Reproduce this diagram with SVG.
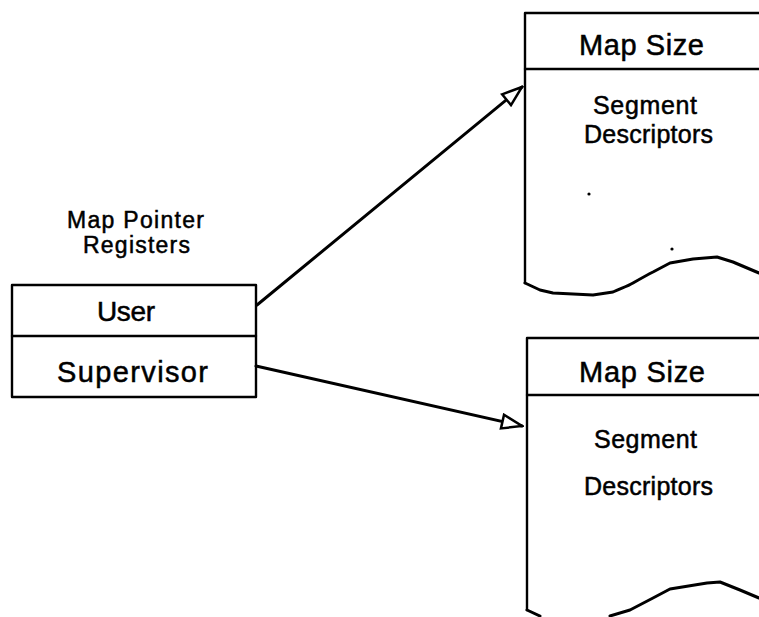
<svg xmlns="http://www.w3.org/2000/svg" width="759" height="617" viewBox="0 0 759 617">
<style>
.box{fill:none;stroke:#000;stroke-width:2.4;stroke-linejoin:round;stroke-linecap:round}
.wave{fill:none;stroke:#000;stroke-width:3;stroke-linejoin:round;stroke-linecap:round}
.con{fill:none;stroke:#000;stroke-width:3;stroke-linecap:round}
text{font-family:"Liberation Sans",Arial,Helvetica,sans-serif;fill:#000;stroke:#000;stroke-width:0.5}
.t29{font-size:29px}
.t28{font-size:28px}
.t25{font-size:25px}
.t23{font-size:23px}
</style>
<defs>
<marker id="arr" markerUnits="userSpaceOnUse" markerWidth="24" markerHeight="18" refX="20" refY="7" orient="auto" viewBox="-2 -2 24 18">
<path d="M0,0 L20,7 L0,14 Z" fill="#fff" stroke="#000" stroke-width="2.5" stroke-linejoin="miter"/>
</marker>
</defs>
<rect width="759" height="617" fill="#fff"/>
<g id="label-registers">
<text class="t23" x="67" y="228" textLength="137" lengthAdjust="spacing">Map Pointer</text>
<text class="t23" x="83" y="253" textLength="107" lengthAdjust="spacing">Registers</text>
</g>
<g id="registers">
<rect class="box" x="12" y="285" width="244" height="112"/>
<line class="box" x1="12" y1="336" x2="256" y2="336"/>
<text class="t28" x="97" y="321" textLength="58" lengthAdjust="spacing">User</text>
<text class="t29" x="57" y="382" textLength="151" lengthAdjust="spacing">Supervisor</text>
</g>
<g id="map-user">
<path class="box" d="M759,13 L525,13 L525,283"/>
<path class="wave" d="M525,283 L540,290 L553,293 L593,295 L613,292 C622,288 628,286 633,283 C640,279 647,275 653,272 L670,263 L693,259 L717,257 L733,262 L759,273"/>
<line class="box" x1="525" y1="69" x2="759" y2="69"/>
<text class="t29" x="579" y="55" textLength="125" lengthAdjust="spacing">Map Size</text>
<text class="t25" x="593" y="114" textLength="104" lengthAdjust="spacing">Segment</text>
<text class="t25" x="584" y="143" textLength="129" lengthAdjust="spacing">Descriptors</text>
<circle cx="589" cy="194" r="1.6" fill="#000"/>
<circle cx="672" cy="249" r="1.6" fill="#000"/>
</g>
<g id="map-supervisor">
<path class="box" d="M759,338 L527,338 L527,610"/>
<path class="wave" d="M527,610 L540,616 M610,616 L630,610 L653,598 L670,589 L707,583 L720,582 L740,590 L759,598"/>
<line class="box" x1="527" y1="395" x2="759" y2="395"/>
<text class="t29" x="579" y="382" textLength="126" lengthAdjust="spacing">Map Size</text>
<text class="t25" x="594" y="448" textLength="103" lengthAdjust="spacing">Segment</text>
<text class="t25" x="584" y="495" textLength="129" lengthAdjust="spacing">Descriptors</text>
</g>
<g id="connectors">
<line class="con" x1="257" y1="305" x2="522" y2="87" marker-end="url(#arr)"/>
<line class="con" x1="256" y1="366" x2="522" y2="426" marker-end="url(#arr)"/>
</g>
</svg>
